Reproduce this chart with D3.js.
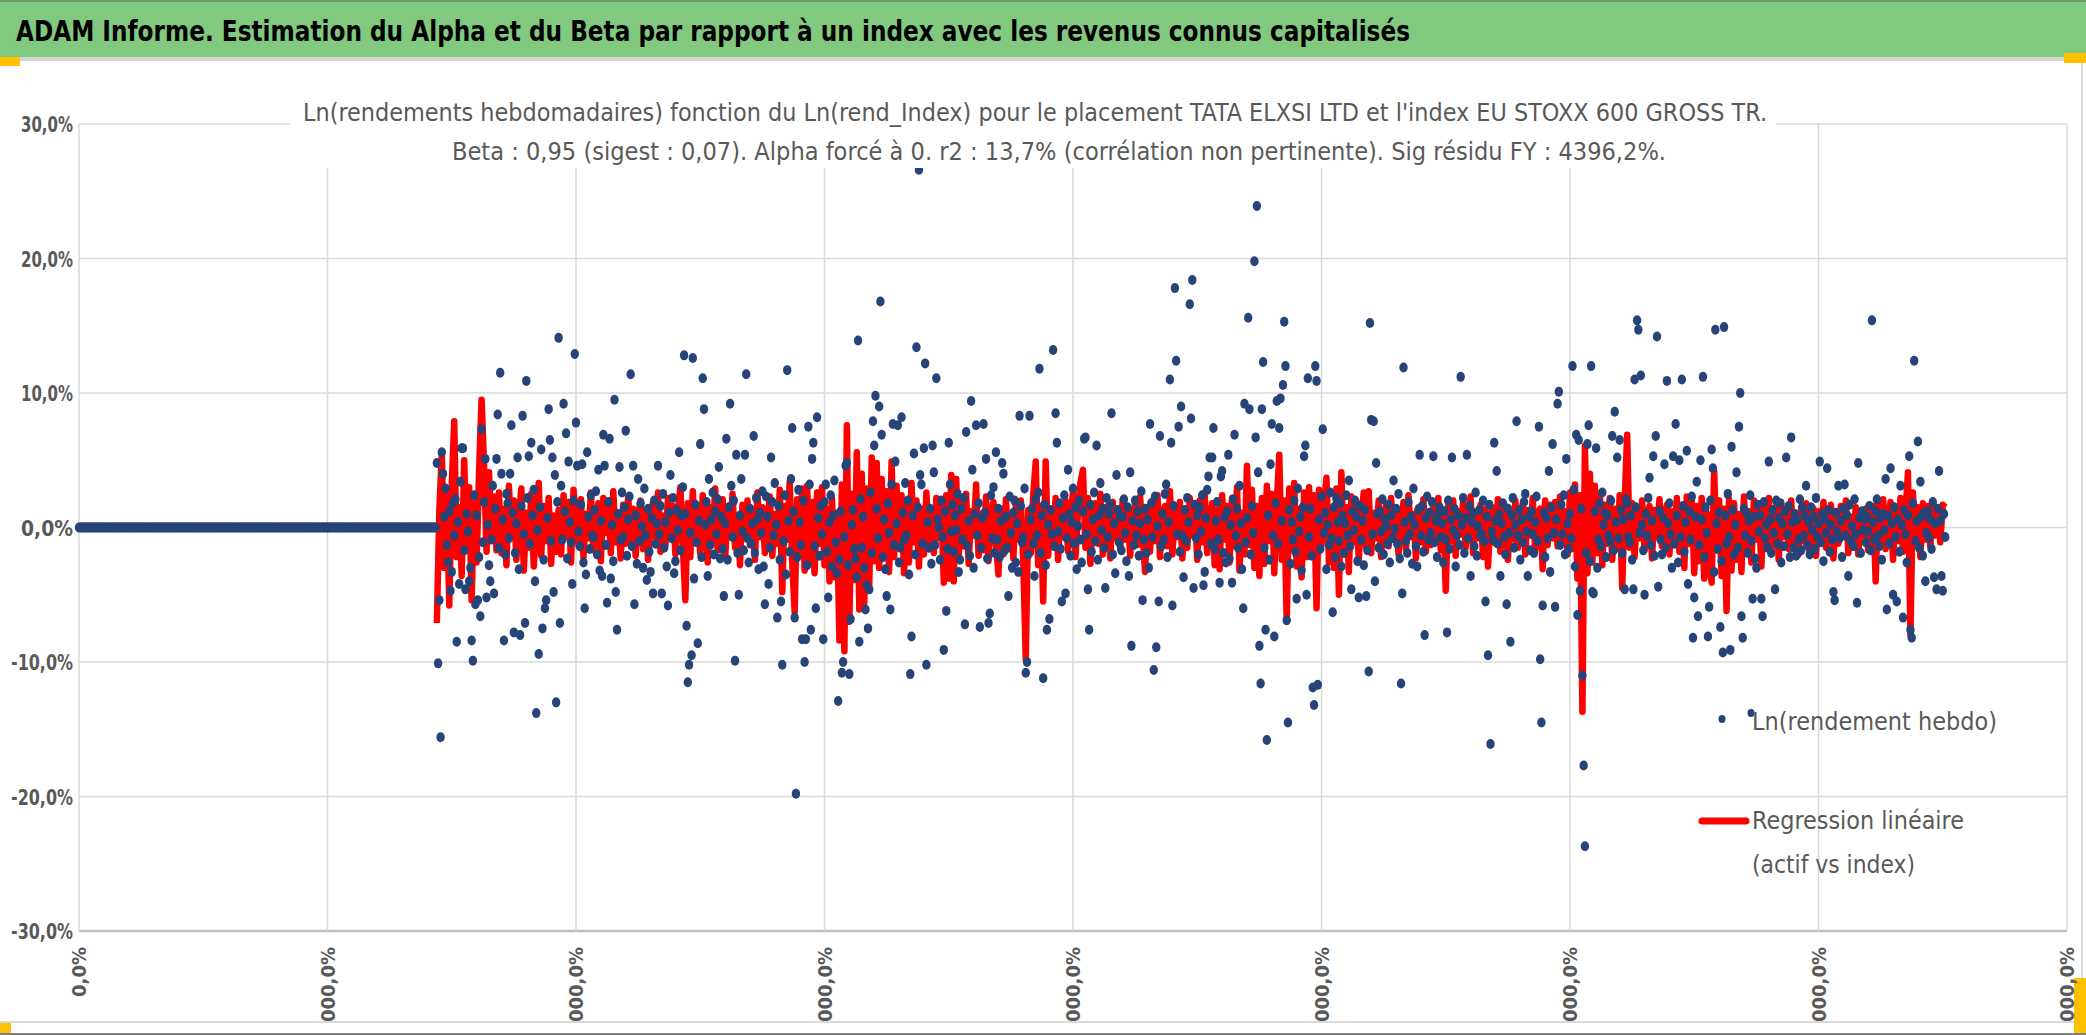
<!DOCTYPE html>
<html>
<head>
<meta charset="utf-8">
<script src="https://cdn.jsdelivr.net/npm/d3@7"></script>
<style>
body { margin: 0; background: #fff; }
svg { display: block; font-family: "Liberation Sans Narrow", "Arial Narrow", "DejaVu Sans Condensed", sans-serif; }
</style>
</head>
<body>
<svg id="chart" width="2086" height="1035"></svg>
<script>
// Textes
const TITLE = "ADAM Informe. Estimation du Alpha et du Beta par rapport à un index avec les revenus connus capitalisés";
const SUBTITLE = [
    "Ln(rendements hebdomadaires) fonction du Ln(rend_Index) pour le placement TATA ELXSI LTD et l'index EU STOXX 600 GROSS TR.",
    "Beta : 0,95 (sigest : 0,07). Alpha forcé à 0. r2 : 13,7% (corrélation non pertinente). Sig résidu FY : 4396,2%."
];
const LEGEND = ["Ln(rendement hebdo)", "Regression linéaire", "(actif vs index)"];

// Graduations
const yTicks = [-30, -20, -10, 0, 10, 20, 30];
const xTicks = [0, 200, 400, 600, 800, 1000, 1200, 1400, 1600];

// Semaines sans cotation (valeur 0) avant le premier rendement
const leadingZeroWeeks = 288;
const firstWeek = 288;

// Ln(rendement hebdo) en %, une valeur par semaine à partir de firstWeek
const assetReturns = [
    4.8,-10.1,-5.4,-15.6,5.6,4.0,0.8,2.9,-1.3,-2.6,1.2,-4.7,-3.3,1.8,-0.6,2.1,-8.5,0.4,-4.2,3.4,5.9,5.9,-1.7,-4.6,1.0,-0.3,-4.0,-3.0,-8.4,-9.9,2.4,-5.7,0.9,-5.4,-2.2,-6.6,7.3,-1.1,1.9,5.1,-5.2,0.2,-2.8,-4.0,-0.9,3.1,-4.9,1.4,5.1,8.4,
    -1.5,11.5,4.0,0.6,-8.4,-2.0,2.5,1.8,-0.8,4.0,7.6,1.1,-7.8,-1.9,0.3,5.2,-3.1,-8.0,1.6,8.3,-0.5,-7.1,10.9,2.2,5.3,-1.2,6.3,0.9,2.8,-4.0,-13.8,-0.2,-9.4,1.5,5.8,-7.5,-2.4,-6.0,-5.4,0.7,8.8,6.5,-1.0,5.2,-4.8,3.9,-13.0,1.9,14.1,-7.1,
    3.1,-0.9,9.2,1.2,7.0,-2.3,4.9,0.4,-1.1,-4.2,2.0,12.9,7.8,4.6,-0.3,-1.4,1.7,4.7,-2.6,-6.0,-3.5,5.6,0.8,-1.6,2.4,-0.6,-0.7,1.3,2.7,-2.0,4.3,-3.2,0.5,-3.6,6.9,4.6,-1.3,-5.6,1.9,6.6,-3.8,0.2,-2.5,9.5,-4.8,-7.6,1.0,4.5,-0.9,2.6,
    -0.7,1.5,7.2,-2.1,0.6,2.3,11.4,-1.4,4.6,-5.7,0.9,-2.7,3.6,-1.0,1.8,0.1,-3.0,2.9,-0.6,-3.9,1.4,-1.8,-3.3,0.7,-4.9,2.0,-1.2,0.3,4.6,-0.5,1.6,-4.9,2.5,-1.5,0.4,-2.9,-5.8,1.1,3.9,-0.8,2.2,-3.4,-2.5,1.3,-0.2,5.6,-1.7,0.9,3.0,12.8,
    1.0,-7.3,-11.5,-10.2,-0.4,-9.5,12.6,-3.8,1.7,-1.1,-8.6,0.5,6.2,-2.2,11.1,8.8,0.2,1.9,-3.6,3.6,-1.3,0.6,2.6,-2.0,1.2,-0.5,2.1,4.5,-2.3,0.8,-1.6,-5.1,0.3,6.6,-2.4,1.5,9.2,3.1,-0.7,2.0,-9.9,5.4,-1.9,-5.0,0.9,3.6,-0.3,-1.7,5.4,11.4,
    -0.8,-2.6,1.4,-1.2,0.3,6.8,-1.9,2.2,0.6,-3.1,1.1,-0.4,2.7,-2.9,-5.7,2.3,0.8,-4.2,-1.5,5.2,1.9,-0.6,3.3,0.2,-6.7,1.6,-2.4,-5.5,-10.2,-1.0,2.4,-3.5,11.7,0.5,-1.8,3.6,7.4,1.2,-6.7,-19.8,-2.2,2.8,0.4,-1.3,-8.3,2.0,-10.0,-8.3,-2.8,7.5,
    3.2,-7.6,5.1,6.3,-1.4,-6.0,8.2,0.7,-2.1,1.6,-0.5,-8.3,1.9,3.2,-1.8,-5.2,0.4,2.4,-2.9,0.9,3.5,-1.1,-3.4,-12.9,-2.4,1.2,-10.8,-10.0,-0.7,4.6,4.8,-2.8,-10.9,-6.8,0.2,1.3,-1.6,-2.3,-3.7,13.9,-8.5,2.1,-1.5,0.8,-3.0,-6.1,-4.3,-7.5,-4.6,2.6,
    -1.9,7.9,6.1,9.8,1.4,-0.8,9.0,16.8,6.9,-2.2,0.6,-3.1,-5.1,1.8,-0.4,-6.1,3.2,7.7,-1.3,4.9,0.3,7.6,-2.6,-1.5,8.2,1.1,-0.9,3.3,-0.6,2.0,-3.5,-10.9,-8.1,0.9,5.5,-2.0,13.4,1.5,26.6,3.9,3.2,-1.2,5.9,12.2,-10.2,0.4,-1.5,1.4,-2.7,6.1,
    4.1,-1.3,11.1,0.6,0.0,-2.4,2.0,-0.7,-9.1,1.2,-6.2,-1.6,6.3,3.2,-0.3,1.7,-1.8,0.9,-0.2,2.5,-3.3,-2.4,1.4,-0.9,2.2,-7.2,7.1,-1.4,0.5,-2.1,9.4,4.3,-3.0,1.0,7.6,-0.6,1.8,-7.4,-1.5,0.7,7.7,1.1,5.1,-2.3,-7.1,-6.4,2.4,-0.8,3.0,-1.9,
    5.6,-0.9,1.4,-2.2,0.5,4.8,4.0,-1.7,0.8,-1.5,-5.1,2.3,-0.4,-3.0,1.1,2.0,-2.6,0.3,-3.3,8.3,1.6,-1.1,-0.7,2.9,-10.8,-10.0,-2.0,8.3,0.6,1.4,-1.2,-3.6,2.1,-0.6,2.6,11.8,-1.9,0.9,-11.2,1.7,-2.8,-7.6,0.2,-6.8,1.3,-0.5,13.2,-1.4,8.5,6.3,
    -0.3,1.8,-1.6,-5.5,0.7,2.4,-4.9,-0.8,4.3,1.0,-2.1,0.4,2.9,-1.2,1.5,-3.1,0.1,2.0,-0.9,-2.6,1.2,6.6,6.7,-0.5,-4.6,-7.6,1.7,-1.8,0.6,2.6,-1.0,6.1,-2.4,0.9,3.3,-0.2,1.4,-1.5,-4.5,2.2,-0.7,1.0,1.7,8.5,-2.0,0.3,-3.4,3.9,1.3,-1.1,
    0.8,-1.7,0.8,2.1,-0.4,-2.5,1.5,-3.6,4.1,-8.8,0.5,-1.3,2.0,-0.6,1.2,-2.1,0.3,2.7,-5.4,-0.9,1.4,-1.9,0.6,-3.0,7.7,1.8,-0.7,-10.6,2.3,-8.9,0.1,-5.5,6.8,-1.4,1.0,-0.9,2.5,3.2,-2.2,0.4,11.0,6.3,-5.8,1.6,17.8,12.4,-0.5,7.5,-1.8,9.0,
    -0.6,-3.7,1.3,-1.0,2.2,0.4,16.6,8.1,18.4,-4.5,1.7,-0.8,0.9,-2.0,1.5,-0.3,2.4,-4.3,-3.3,0.7,2.8,3.8,5.2,-1.2,5.2,7.4,-1.6,0.5,1.9,-0.9,-4.1,3.8,4.2,-1.9,0.8,-2.6,1.2,5.4,-2.3,0.2,-4.1,2.1,6.9,-0.6,1.4,-1.5,3.1,0.3,-3.1,-6.0,
    9.2,-1.1,0.7,15.6,8.8,-2.0,1.6,-0.4,19.8,6.7,23.9,4.1,-8.8,-11.6,8.8,12.3,-1.5,-7.6,-15.8,0.9,-2.4,4.7,7.7,-0.6,-8.1,1.8,9.4,-1.2,7.4,9.6,0.5,10.6,15.3,12.0,-6.9,-14.5,1.3,-2.7,0.4,-0.9,2.0,-1.8,-5.3,2.9,-0.3,0.8,-3.2,1.5,5.3,6.1,
    -5.0,11.1,-0.7,1.4,-2.1,-11.9,-13.2,12.0,10.9,-11.7,0.6,-1.6,2.3,7.3,-0.4,1.1,-3.1,0.2,-1.3,2.6,-0.8,-6.3,1.5,-2.2,2.2,0.4,-1.0,1.8,-2.9,0.9,-1.9,0.3,2.4,-0.6,3.5,-1.4,-4.6,1.2,-0.2,2.0,0.8,-2.5,-5.2,1.6,-0.9,0.5,-2.8,1.3,-5.1,-1.7,
    -10.7,15.2,8.0,-0.5,7.9,-4.0,4.8,1.0,-1.5,1.2,-0.3,2.1,-2.0,0.6,0.1,-1.2,1.7,-2.6,0.9,-0.8,3.5,-0.1,1.4,-1.2,2.5,-2.3,-11.6,-4.9,11.9,0.4,-1.0,-1.9,1.9,-0.5,0.8,-2.7,2.9,0.2,-1.4,-2.9,1.3,5.4,-0.6,1.6,-1.8,-8.0,0.7,2.3,-0.9,1.1,
    -0.4,1.9,5.3,-1.1,0.5,-2.2,1.0,1.5,-0.7,0.3,-2.6,1.2,-0.9,-7.8,2.0,-1.6,0.6,5.2,-0.2,1.4,-2.9,-0.6,0.9,-1.3,11.2,0.2,2.2,-1.9,0.7,5.4,-0.8,1.6,-3.6,0.4,1.1,-1.4,2.6,-2.1,0.1,1.3,-0.6,-0.5,2.0,-1.0,-5.5,0.8,-9.5,1.7,-16.1,-0.3,
    -0.9,6.3,0.5,4.2,-1.2,1.0,-3.6,0.3,1.8,-0.7,-2.0,-5.7,1.4,-0.4,-8.5,0.9,2.2,-1.5,0.2,7.9,-0.6,1.3,-2.4,0.6,-1.1,1.9,2.5,-0.3,-3.6,0.8,-1.7,1.2,-0.5,-1.9,0.4,2.3,-1.0,7.5,-9.8,-14.5,-5.8,1.1,-2.2,0.7,-0.8,4.2,-3.3,1.5,6.2,-0.4,
    -5.9,0.6,9.2,10.1,-1.3,1.7,-0.5,2.4,-2.0,5.1,0.3,-1.6,1.0,-0.8,12.0,2.8,-2.9,6.9,-6.5,6.5,-4.7,1.4,-11.0,-17.7,-23.7,-1.9,6.2,7.6,-2.5,12.0,-4.8,-4.9,1.2,5.9,-3.0,-0.9,1.8,-1.4,2.6,0.2,1.1,-2.2,0.9,-0.6,-1.0,2.0,6.8,-1.7,8.6,0.4,
    5.2,-0.8,6.5,1.3,-1.9,0.6,-4.6,2.1,1.8,-0.7,-1.1,0.9,-2.4,-4.6,11.0,1.5,15.4,14.7,-0.4,11.3,0.2,-1.7,-5.0,1.0,-0.6,2.2,3.7,-1.3,0.5,5.3,-2.1,6.8,14.2,-4.4,1.2,-0.9,-2.0,0.7,4.7,-1.5,10.9,0.3,1.8,-0.5,-3.0,5.3,-1.2,7.7,0.9,-2.6,
    5.0,-0.7,11.0,1.6,-1.8,0.4,5.7,-4.2,1.2,-0.9,2.3,-8.2,-5.2,0.8,3.4,-6.6,-1.3,5.0,0.6,11.2,-2.2,1.5,-0.4,-8.1,-5.9,2.0,5.8,4.4,-3.3,14.7,0.3,-1.6,1.1,-7.4,-2.5,-9.3,14.9,0.9,-1.2,2.5,-0.7,-9.1,6.0,1.3,-2.0,0.2,4.1,-1.5,7.5,10.0,
    -6.6,-8.2,1.4,-0.6,1.1,-1.9,0.5,2.4,-1.0,-5.3,0.8,-2.3,-3.0,1.7,-0.3,0.9,-5.3,-6.6,1.9,-0.8,0.2,-1.5,4.9,0.6,-1.9,1.3,-0.4,-4.6,2.0,-1.2,0.7,1.8,-2.6,0.3,-1.4,1.2,5.2,-0.5,1.6,-2.2,6.7,0.4,-1.5,1.0,-2.1,0.6,-0.9,2.1,-1.7,1.5,
    -0.6,0.9,3.1,-1.3,0.4,-2.0,1.5,-0.2,0.8,-1.6,2.2,-0.7,0.3,4.9,-1.1,1.0,-2.5,0.6,-0.4,4.4,1.3,-1.8,0.2,-0.9,-4.8,-5.4,1.1,-0.3,3.1,-0.8,0.5,-2.2,1.4,3.2,-0.6,0.9,-3.6,1.7,-1.0,0.1,-1.4,2.1,-0.5,-5.6,4.8,0.7,-1.9,1.2,-0.2,0.6,
    -1.1,0.8,-0.3,1.6,-1.7,15.4,0.4,-0.9,1.2,2.1,-0.6,-1.4,0.7,-2.4,1.0,-0.2,3.6,-6.1,0.9,-1.2,4.4,0.3,-5.0,1.5,-0.7,-5.5,0.6,-1.8,3.1,0.2,-6.7,1.3,-0.5,-2.6,0.9,5.3,-7.6,-8.2,1.8,12.4,-1.0,0.5,6.4,-1.5,3.4,0.8,-2.1,1.1,-4.0,-0.4,
    1.2,-0.8,0.6,-1.6,1.9,-3.7,0.3,-4.6,1.4,4.2,0.5,-3.6,-4.7,1.0,-0.7
];

// Régression linéaire (beta x Ln(rend_Index)) en %, une semaine sur deux à partir de firstWeek
const regressionStep = 2;
const regressionLine = [
    -7.1,1.2,5.5,-3.0,2.4,-5.8,3.1,7.9,-2.2,1.5,-3.6,5.0,-1.4,3.0,-5.4,1.8,-2.6,4.2,9.5,4.6,-1.8,4.1,-0.9,2.3,-1.7,
    2.6,-1.9,1.4,-2.8,3.1,-0.6,2.0,-2.4,0.8,2.9,-3.2,1.1,-1.5,2.5,-2.9,0.4,3.3,-2.1,1.6,-1.0,2.2,-2.7,0.9,-1.8,1.3,
    -2.0,2.4,-0.7,1.9,-2.6,2.8,0.5,-1.3,2.1,-2.2,1.0,-0.8,2.6,-1.7,0.3,1.8,-2.5,2.2,-0.4,1.5,-1.9,2.7,-1.1,0.6,-2.3,
    1.7,-1.2,2.3,-0.9,1.4,-2.1,0.8,2.0,-1.6,1.1,-2.4,0.5,1.9,-0.7,2.6,-1.8,0.9,-1.3,2.2,-0.5,1.6,-2.0,1.2,3.0,-1.4,
    -5.4,1.8,-2.2,2.7,-0.8,1.3,-1.9,2.4,0.2,-2.6,1.5,-1.0,2.9,-1.7,0.6,2.1,-2.3,1.2,-0.4,2.5,-1.5,0.9,-2.8,1.7,-0.6,
    2.0,-1.3,1.1,-2.4,2.6,-0.7,1.5,-1.9,0.4,2.3,-2.1,1.0,-1.2,2.8,-4.8,1.6,-0.9,3.4,-2.6,-6.3,2.1,-1.8,2.9,-3.2,3.1,
    -2.5,1.9,-3.4,2.6,-1.2,3.0,-2.8,1.4,-4.0,2.2,-3.7,1.1,-8.4,3.2,-9.2,7.6,-7.0,2.5,-3.9,5.6,-6.1,4.0,-5.6,2.9,-4.4,
    5.2,-2.5,4.8,-3.0,3.6,-1.8,2.7,-3.3,4.9,-2.2,3.1,-1.5,2.4,-3.4,1.7,-2.6,3.3,-1.1,2.0,-2.9,1.4,-2.0,2.6,-1.3,0.9,
    -1.9,2.2,-0.8,1.5,-4.1,2.4,-3.8,3.9,-4.0,3.6,-2.2,1.8,-1.4,2.5,-2.7,1.2,-0.6,3.2,-2.1,1.0,-1.7,2.3,-2.5,0.7,1.9,
    -1.2,-3.5,1.4,-2.0,2.1,-1.6,0.8,-2.3,1.7,-0.9,2.0,-2.6,-9.8,1.3,-1.9,2.4,4.9,-2.8,1.6,-5.5,4.9,-2.1,1.1,-1.4,2.2,
    -2.4,1.3,-0.7,2.0,-1.8,0.9,2.6,-2.2,1.1,3.3,4.3,-1.5,2.2,-2.7,0.6,1.8,-1.2,2.5,-2.0,0.4,1.6,-2.3,1.9,-0.8,1.2,
    -1.6,2.1,-0.9,1.4,-2.1,0.7,1.8,-1.3,2.3,-0.5,-3.3,1.5,-1.8,2.0,-1.0,2.4,-2.2,0.8,1.6,-1.4,2.7,-2.0,1.2,-0.7,1.9,
    -2.3,1.0,-1.5,2.2,-0.6,1.7,-2.4,2.0,-1.1,2.6,-1.9,0.5,1.8,-2.8,1.3,-3.1,2.4,-0.9,1.6,-2.6,2.2,-1.4,3.0,-3.2,1.1,
    -2.0,4.6,-1.3,2.8,-3.0,1.6,-3.6,2.2,-2.7,3.1,-1.0,2.5,-3.4,1.8,5.4,-2.4,2.0,-7.0,2.9,-1.6,3.3,-2.9,1.4,-3.7,2.6,
    -2.2,3.0,-1.8,2.4,-6.0,2.8,-1.3,1.6,3.7,-2.6,1.2,-3.0,2.9,-5.0,4.1,-2.0,1.5,-3.3,2.3,-1.1,1.9,-2.4,0.8,2.6,-1.5,
    2.7,-1.9,1.1,-0.8,2.0,-2.2,0.6,1.7,-1.4,2.2,-0.9,1.3,-2.0,0.4,1.9,-1.6,2.4,-0.7,1.0,-2.3,1.5,-1.1,2.1,-1.8,0.9,
    -1.3,1.8,-0.6,2.2,-1.7,0.9,-4.7,1.6,-1.0,2.0,-2.1,1.2,-0.5,1.9,-1.5,0.7,2.3,-1.9,1.0,-0.8,1.7,-2.2,1.4,-2.9,0.6,
    1.5,-1.2,2.1,-1.8,0.5,1.6,-2.4,1.1,-0.9,2.0,-1.5,0.8,1.8,-2.0,1.3,-0.6,2.2,-1.7,0.9,1.4,-3.1,2.0,-1.3,1.7,-0.8,
    1.9,-1.4,2.3,-0.9,1.2,-2.0,2.6,-1.6,3.2,-3.8,2.4,-13.7,6.1,-3.4,4.0,-2.6,3.1,-1.9,2.5,-2.8,1.7,-1.2,2.2,-2.4,1.4,
    -1.6,2.4,-4.5,1.9,6.9,-1.5,1.8,-2.2,1.1,-0.8,2.0,-1.7,0.9,1.6,-2.3,1.3,-0.7,2.1,-1.4,0.8,1.7,-2.0,1.2,-1.1,2.2,
    -1.8,1.5,-3.0,2.3,-1.2,2.0,-3.4,1.6,-2.5,2.2,-3.8,1.1,-2.8,-4.1,4.2,-1.7,2.0,-3.6,1.4,-6.2,2.1,-3.2,1.8,-2.4,1.0,
    -3.3,2.3,-1.5,1.2,-2.6,2.0,-0.9,1.7,-2.9,1.4,-1.1,2.2,-1.8,0.6,1.6,-2.4,1.9,-0.7,1.1,-1.6,2.0,-1.2,0.8,-2.0,1.5,
    -1.0,1.8,-1.6,0.9,1.4,-2.1,1.2,-0.8,1.9,-1.5,0.6,1.7,-2.3,1.0,-1.2,1.6,-0.7,2.0,-1.9,0.8,-1.3,1.5,-2.0,1.1,-0.6,
    1.4,-1.7,0.9,1.6,-4.0,1.8,-1.2,2.1,-1.6,0.7,1.9,-2.4,1.3,-1.0,2.2,-1.8,1.1,4.1,-8.0,2.6,-1.3,1.5,-2.2,1.8,-0.9,
    1.6,-1.4,1.9,-0.6,1.2,-1.1,1.7,1.5
];

// Mise en page
const WIDTH = 2086, HEIGHT = 1035;
const PLOT = { left: 79, right: 2067, top: 124, bottom: 931 };
const COLORS = {
    banner: "#80c97f",
    grid: "#d9d9d9",
    text: "#595959",
    dot: "#264478",
    line: "#ff0000",
    corner: "#ffc000"
};

const x = d3.scaleLinear().domain([0, 1600]).range([PLOT.left, PLOT.right]);
const y = d3.scaleLinear().domain([-30, 30]).range([PLOT.bottom, PLOT.top]);
const pct = v => d3.format(".1f")(v).replace(".", ",").replace("−", "-") + "%";

const svg = d3.select("#chart");

// Bandeau titre
svg.append("rect").attr("x", 0).attr("y", 0).attr("width", WIDTH).attr("height", 57).attr("fill", COLORS.banner);
svg.append("rect").attr("x", 0).attr("y", 0).attr("width", WIDTH).attr("height", 2).attr("fill", "#6b9a6b");
svg.append("text")
    .attr("x", 16).attr("y", 41)
    .attr("font-size", 29).attr("font-weight", "bold").attr("fill", "#000")
    .attr("textLength", 1394).attr("lengthAdjust", "spacingAndGlyphs")
    .text(TITLE);
svg.append("rect").attr("x", 0).attr("y", 57).attr("width", WIDTH).attr("height", 4).attr("fill", "#d6d6d6");

// Cadre du graphique
svg.append("line").attr("x1", 2082).attr("x2", 2082).attr("y1", 61).attr("y2", 1022)
    .attr("stroke", COLORS.grid).attr("stroke-width", 2);
svg.append("line").attr("x1", 0).attr("x2", WIDTH).attr("y1", 1022).attr("y2", 1022)
    .attr("stroke", COLORS.grid).attr("stroke-width", 2);
svg.append("line").attr("x1", 0).attr("x2", WIDTH).attr("y1", 1034).attr("y2", 1034)
    .attr("stroke", "#808080").attr("stroke-width", 2);
svg.append("rect").attr("x", 0).attr("y", 57).attr("width", 20).attr("height", 9).attr("fill", COLORS.corner);
svg.append("rect").attr("x", 2064).attr("y", 53).attr("width", 22).attr("height", 10).attr("fill", COLORS.corner);
svg.append("rect").attr("x", 0).attr("y", 1023).attr("width", 11).attr("height", 10).attr("fill", COLORS.corner);
svg.append("rect").attr("x", 2074).attr("y", 978).attr("width", 12).attr("height", 55).attr("fill", COLORS.corner);

// Quadrillage
svg.append("g").selectAll("line").data(yTicks).join("line")
    .attr("x1", PLOT.left).attr("x2", PLOT.right)
    .attr("y1", d => y(d)).attr("y2", d => y(d))
    .attr("stroke", d => d === -30 ? "#bfbfbf" : COLORS.grid)
    .attr("stroke-width", d => d === -30 ? 2.5 : 1.5);
svg.append("g").selectAll("line").data(xTicks).join("line")
    .attr("x1", d => x(d)).attr("x2", d => x(d))
    .attr("y1", PLOT.top).attr("y2", PLOT.bottom)
    .attr("stroke", COLORS.grid).attr("stroke-width", 1.5);

// Axe Y
svg.append("g").selectAll("text").data(yTicks).join("text")
    .attr("x", 73).attr("y", d => y(d) + 8)
    .attr("text-anchor", "end")
    .attr("font-size", 21).attr("font-weight", "bold").attr("fill", COLORS.text)
    .attr("textLength", d => d < 0 ? 62 : 52).attr("lengthAdjust", "spacingAndGlyphs")
    .text(pct);

// Axe X (étiquettes verticales coupées par le cadre, comme dans l'original)
svg.append("defs").append("clipPath").attr("id", "xClip")
    .append("rect").attr("x", 0).attr("y", 0).attr("width", WIDTH).attr("height", 1021);
svg.append("g").attr("clip-path", "url(#xClip)")
    .selectAll("text").data(xTicks).join("text")
    .attr("transform", d => `translate(${x(d) + 7},947) rotate(-90)`)
    .attr("text-anchor", "end")
    .attr("font-size", 20).attr("font-weight", "bold").attr("fill", COLORS.text)
    .text(d => pct(d * 100));

// Séries
const zeroWeeks = d3.range(leadingZeroWeeks).map(i => ({ week: i, value: 0 }));
const assetPoints = zeroWeeks.concat(assetReturns.map((v, i) => ({ week: firstWeek + i, value: v })));
const regressionPoints = regressionLine.map((v, i) => ({ week: firstWeek + i * regressionStep, value: v }));

svg.append("path")
    .datum(regressionPoints)
    .attr("fill", "none")
    .attr("stroke", COLORS.line)
    .attr("stroke-width", 6.5)
    .attr("stroke-linejoin", "round")
    .attr("d", d3.line().x(d => x(d.week)).y(d => y(d.value)));

svg.append("g").selectAll("ellipse").data(assetPoints).join("ellipse")
    .attr("cx", d => x(d.week)).attr("cy", d => y(d.value))
    .attr("rx", 4.2).attr("ry", 5)
    .attr("fill", COLORS.dot);

// Titre du graphique (cartouche blanc)
svg.append("rect").attr("x", 290).attr("y", 92).attr("width", 1486).attr("height", 76).attr("fill", "#fff");
svg.append("text")
    .attr("x", 303).attr("y", 121)
    .attr("font-size", 25).attr("fill", COLORS.text)
    .attr("textLength", 1464).attr("lengthAdjust", "spacingAndGlyphs")
    .text(SUBTITLE[0]);
svg.append("text")
    .attr("x", 452).attr("y", 160)
    .attr("font-size", 25).attr("fill", COLORS.text)
    .attr("textLength", 1214).attr("lengthAdjust", "spacingAndGlyphs")
    .text(SUBTITLE[1]);

// Légende
const legend = svg.append("g").attr("fill", COLORS.text).attr("font-size", 25);
legend.append("ellipse").attr("cx", 1722).attr("cy", 719).attr("rx", 3.5).attr("ry", 4).attr("fill", COLORS.dot);
legend.append("ellipse").attr("cx", 1751).attr("cy", 713).attr("rx", 3.5).attr("ry", 4).attr("fill", COLORS.dot);
legend.append("text").attr("x", 1752).attr("y", 730)
    .attr("textLength", 245).attr("lengthAdjust", "spacingAndGlyphs").text(LEGEND[0]);
legend.append("line").attr("x1", 1702).attr("x2", 1746).attr("y1", 821).attr("y2", 821)
    .attr("stroke", COLORS.line).attr("stroke-width", 7).attr("stroke-linecap", "round");
legend.append("text").attr("x", 1752).attr("y", 829)
    .attr("textLength", 212).attr("lengthAdjust", "spacingAndGlyphs").text(LEGEND[1]);
legend.append("text").attr("x", 1752).attr("y", 873)
    .attr("textLength", 163).attr("lengthAdjust", "spacingAndGlyphs").text(LEGEND[2]);
</script>
</body>
</html>
